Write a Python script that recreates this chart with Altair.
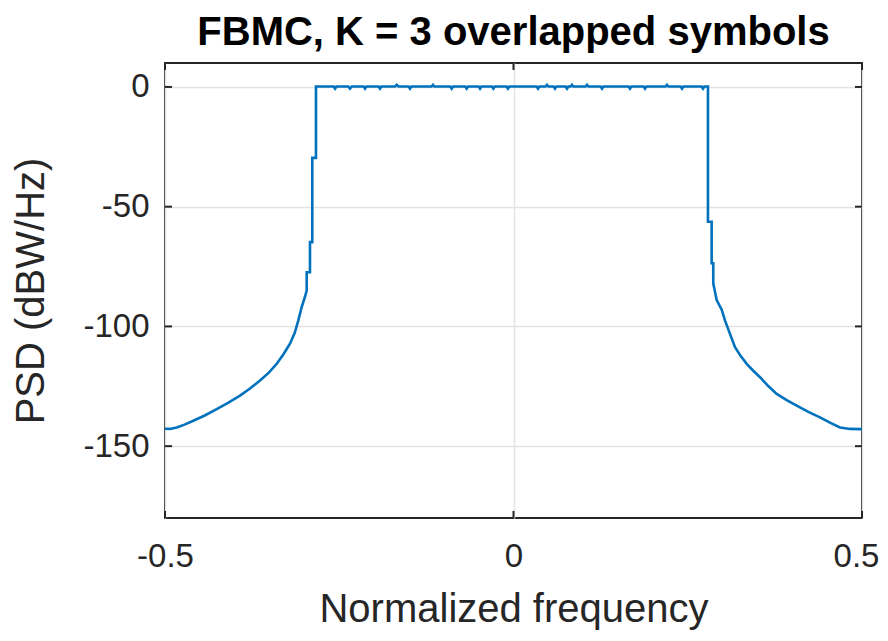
import altair as alt
import pandas as pd

# ---- data ----
left_f = [-0.5000, -0.4928, -0.4832, -0.4720, -0.4594, -0.4430, -0.4258, -0.4090, -0.3924,
          -0.3780, -0.3637, -0.3510, -0.3397, -0.3300, -0.3207, -0.3140, -0.3087, -0.3040,
          -0.2990, -0.2967, -0.2967, -0.2920, -0.2920, -0.2887, -0.2887, -0.2834, -0.2834]
left_db = [-142.7, -142.8, -142.2, -141.0, -139.4, -137.2, -134.5, -131.8, -128.9,
           -125.9, -122.6, -119.3, -115.6, -111.6, -107.2, -102.8, -97.5, -92.0,
           -87.5, -84.9, -77.4, -77.4, -64.8, -64.8, -29.6, -29.6, 0.2]

pass_f = [-0.2580, -0.2560, -0.2540, -0.2370, -0.2346, -0.2320, -0.2150, -0.2130, -0.2110,
          -0.1935, -0.1915, -0.1895, -0.1700, -0.1676, -0.1650, -0.1505, -0.1485, -0.1465,
          -0.1175, -0.1155, -0.1135, -0.0907, -0.0887, -0.0867, -0.0692, -0.0672, -0.0652,
          -0.0500, -0.0480, -0.0460, -0.0309, -0.0289, -0.0269, -0.0100, -0.0080, -0.0060,
          0.0332, 0.0352, 0.0372, 0.0460, 0.0480, 0.0500, 0.0575, 0.0595, 0.0615,
          0.0748, 0.0768, 0.0788, 0.0819, 0.0839, 0.0859, 0.1035, 0.1055, 0.1075,
          0.1250, 0.1270, 0.1290, 0.1651, 0.1671, 0.1691, 0.1867, 0.1887, 0.1907,
          0.2182, 0.2202, 0.2222, 0.2398, 0.2418, 0.2438, 0.2699, 0.2719, 0.2739]
pass_db = [0.2, -0.7, 0.2, 0.2, -0.7, 0.2, 0.2, -0.7, 0.2,
           0.2, -0.7, 0.2, 0.2, 0.9, 0.2, 0.2, -0.7, 0.2,
           0.2, 0.9, 0.2, 0.2, -0.7, 0.2, 0.2, -0.7, 0.2,
           0.2, -0.7, 0.2, 0.2, -0.7, 0.2, 0.2, -0.7, 0.2,
           0.2, -0.7, 0.2, 0.2, 0.9, 0.2, 0.2, -0.7, 0.2,
           0.2, -0.7, 0.2, 0.2, 0.9, 0.2, 0.2, 0.9, 0.2,
           0.2, -0.7, 0.2, 0.2, -0.7, 0.2, 0.2, -0.7, 0.2,
           0.2, 0.9, 0.2, 0.2, -0.7, 0.2, 0.2, -0.7, 0.2]

right_f = [0.2790, 0.2790, 0.2843, 0.2843, 0.2866, 0.2866, 0.2915, 0.2987, 0.3034,
           0.3106, 0.3178, 0.3260, 0.3346, 0.3440, 0.3537, 0.3655, 0.3776, 0.3920,
           0.4063, 0.4230, 0.4397, 0.4540, 0.4684, 0.4830, 0.4971, 0.5000]
right_db = [0.2, -56.3, -56.3, -73.6, -73.6, -82.0, -89.0, -93.0, -97.5,
            -103.1, -108.7, -112.4, -115.6, -118.5, -121.2, -124.9, -128.2, -130.8,
            -133.1, -135.7, -138.0, -140.2, -142.2, -142.8, -142.9, -142.9]

x_ticks = [-0.5, 0, 0.5]
y_ticks = [-150, -100, -50, 0]

freq = left_f + pass_f + right_f
psd = left_db + pass_db + right_db
df = pd.DataFrame({"f": freq, "psd": psd, "i": list(range(len(freq)))})

W, H = 697, 455
FONT = "Liberation Sans"
TXT = "#262626"

xs = alt.Scale(domain=[-0.5, 0.5], nice=False, zero=False)
ys = alt.Scale(domain=[-180, 10], nice=False, zero=False)

line = alt.Chart(df).mark_line(color="#0072BD", strokeWidth=2.6).encode(
    x=alt.X("f:Q", scale=xs, axis=alt.Axis(
        values=x_ticks, title="Normalized frequency", labelExpr="toString(datum.value)",
        ticks=False, domain=False, grid=True, gridColor="#e3e3e3", gridWidth=1.5,
        labelFlush=False, labelFontSize=33, labelPadding=22, labelColor=TXT, labelFont=FONT,
        labelOffset=alt.condition("datum.value == 0.5", alt.value(-6), alt.value(0)),
        titleFontSize=40, titleFont=FONT, titleFontWeight="normal", titleColor=TXT,
        titlePadding=16)),
    y=alt.Y("psd:Q", scale=ys, axis=alt.Axis(
        values=y_ticks, title="PSD (dBW/Hz)", labelExpr="toString(datum.value)",
        ticks=False, domain=False, grid=True, gridColor="#e3e3e3", gridWidth=1.5,
        labelFlush=False, labelFontSize=33, labelPadding=16, labelColor=TXT, labelFont=FONT,
        titleFontSize=40, titleFont=FONT, titleFontWeight="normal", titleColor=TXT,
        titlePadding=31)),
    order="i:Q",
)

ydf = pd.DataFrame({"v": y_ticks})
xdf = pd.DataFrame({"v": x_ticks})
tick_style = dict(color=TXT, strokeWidth=2)
ytick_l = alt.Chart(ydf).mark_rule(**tick_style).encode(
    y=alt.Y("v:Q", scale=ys), x=alt.value(0), x2=alt.value(7))
ytick_r = alt.Chart(ydf).mark_rule(**tick_style).encode(
    y=alt.Y("v:Q", scale=ys), x=alt.value(W - 7), x2=alt.value(W))
xtick_b = alt.Chart(xdf).mark_rule(**tick_style).encode(
    x=alt.X("v:Q", scale=xs), y=alt.value(H), y2=alt.value(H - 7))
xtick_t = alt.Chart(xdf).mark_rule(**tick_style).encode(
    x=alt.X("v:Q", scale=xs), y=alt.value(0), y2=alt.value(7))

chart = alt.layer(line, ytick_l, ytick_r, xtick_b, xtick_t).properties(
    width=W, height=H,
    title=alt.TitleParams("FBMC, K = 3 overlapped symbols", fontSize=40, font=FONT,
                          fontWeight="bold", color="#000000", offset=9, anchor="middle"),
    autosize=alt.AutoSizeParams(type="none"),
    padding={"left": 157, "top": 55, "right": 18, "bottom": 115},
).configure(background="white", view=alt.ViewConfig(stroke=TXT, strokeWidth=2))

chart.save("out.html", embed_options={"renderer": "svg", "actions": False})
